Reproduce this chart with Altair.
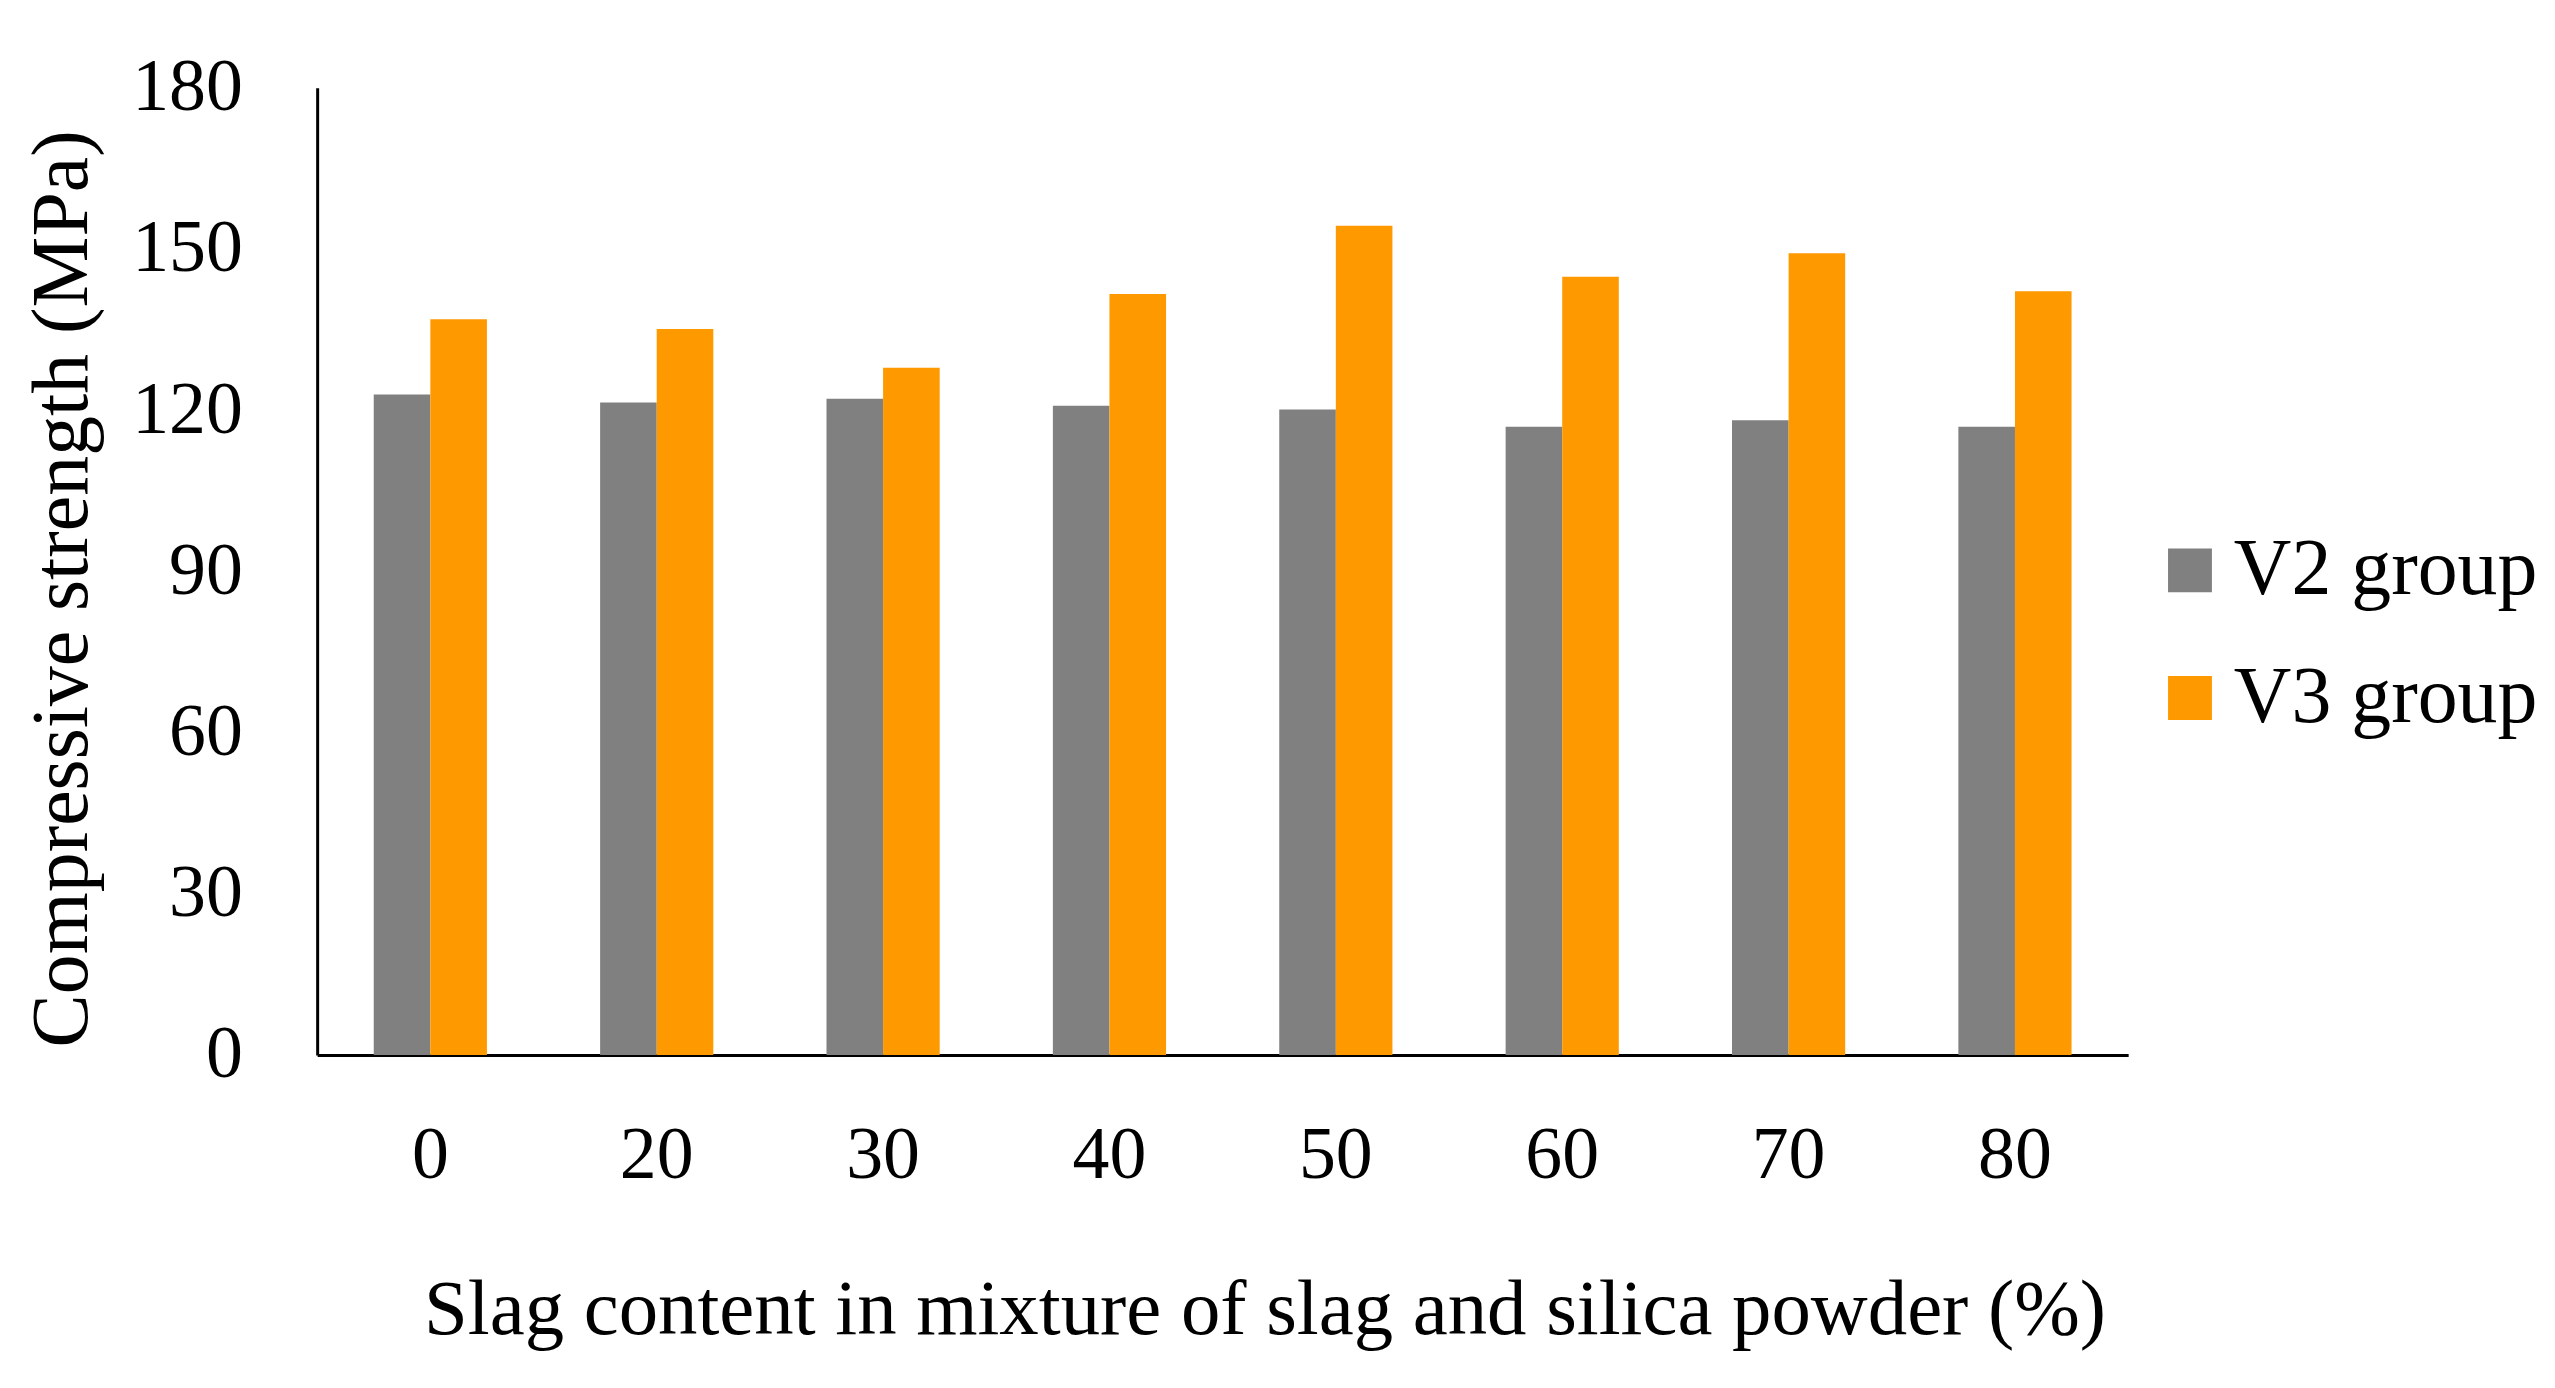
import altair as alt
import pandas as pd

categories = ["0", "20", "30", "40", "50", "60", "70", "80"]
v2_values = [122.9, 121.4, 122.1, 120.8, 120.1, 116.9, 118.1, 116.9]
v3_values = [136.9, 135.1, 127.9, 141.6, 154.3, 144.8, 149.2, 142.1]
series = ["V2 group", "V3 group"]
colors = ["#808080", "#ff9900"]
y_ticks = [0, 30, 60, 90, 120, 150, 180]

rows = []
for c, a, b in zip(categories, v2_values, v3_values):
    rows.append({"cat": c, "series": series[0], "value": a})
    rows.append({"cat": c, "series": series[1], "value": b})
df = pd.DataFrame(rows)

FONT = "Liberation Serif"

chart = alt.Chart(df).mark_bar().encode(
    x=alt.X(
        "cat:N",
        sort=categories,
        scale=alt.Scale(paddingInner=0.5, paddingOuter=0.25),
        axis=alt.Axis(
            title="Slag content in mixture of slag and silica powder (%)",
            labelAngle=0,
            ticks=False,
            domainColor="black",
            domainWidth=3,
            labelFont=FONT,
            labelFontSize=74,
            labelColor="black",
            labelPadding=65,
            titleFont=FONT,
            titleFontSize=79,
            titleFontWeight="normal",
            titleColor="black",
            titleX=950,
            titleY=279,
            titleBaseline="alphabetic",
        ),
    ),
    xOffset=alt.XOffset("series:N", sort=series),
    y=alt.Y(
        "value:Q",
        scale=alt.Scale(domain=[0, 180]),
        axis=alt.Axis(
            title="Compressive strength (MPa)",
            values=y_ticks,
            grid=False,
            ticks=False,
            domainColor="black",
            domainWidth=3,
            labelFont=FONT,
            labelFontSize=74,
            labelColor="black",
            labelPadding=75,
            titleFont=FONT,
            titleFontSize=80,
            titleFontWeight="normal",
            titleColor="black",
            titlePadding=28,
            titleY=502,
        ),
    ),
    color=alt.Color(
        "series:N",
        scale=alt.Scale(domain=series, range=colors),
        legend=alt.Legend(
            title=None,
            orient="none",
            legendX=1838,
            legendY=444,
            symbolType="square",
            symbolSize=1936,
            symbolStrokeWidth=0,
            symbolOpacity=1,
            labelFont=FONT,
            labelFontSize=80,
            labelColor="black",
            labelOffset=4,
            labelLimit=0,
            rowPadding=48,
            padding=0,
        ),
    ),
).properties(
    width=1816,
    height=970,
    autosize=alt.AutoSizeParams(type="none"),
    padding={"left": 310, "top": 78, "right": 420, "bottom": 320},
).configure_view(stroke=None)

chart.save("out.html", embed_options={"renderer": "svg", "actions": False})
